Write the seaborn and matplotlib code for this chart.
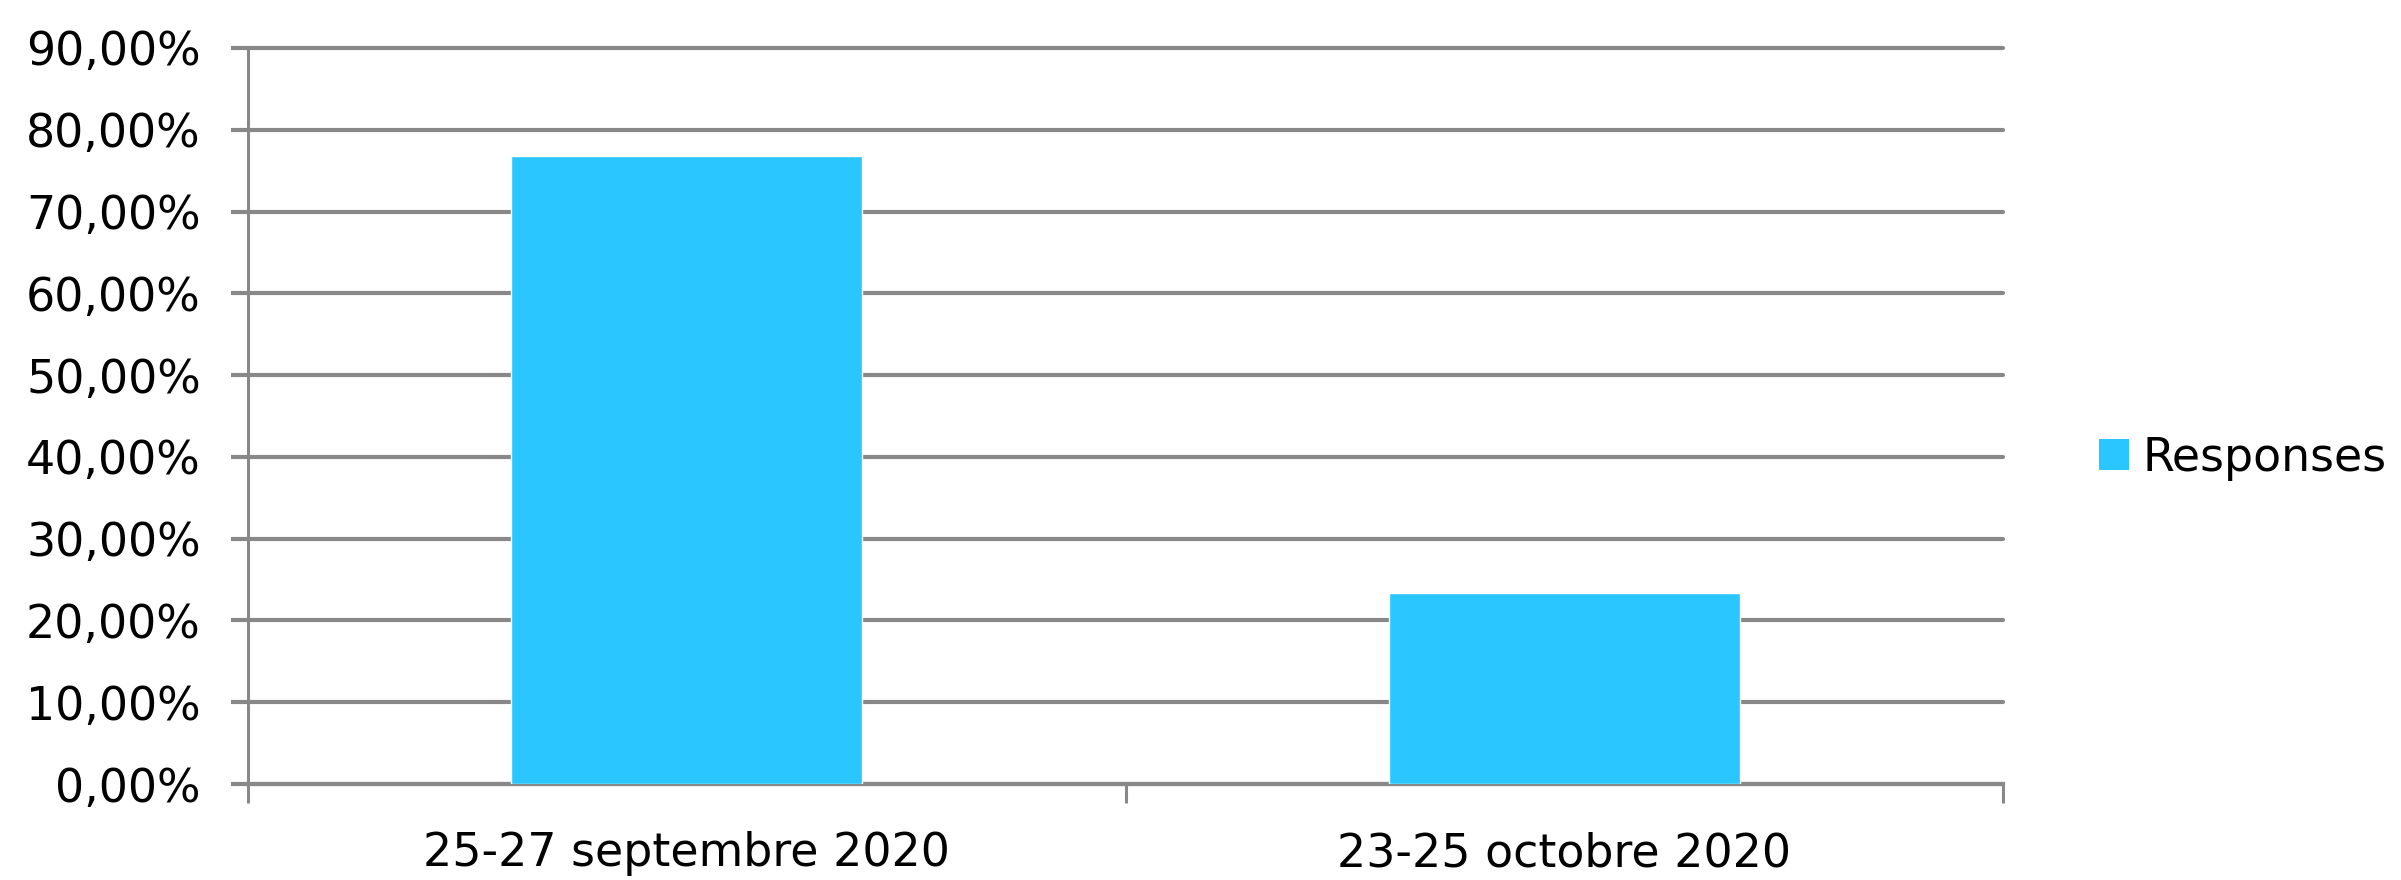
import matplotlib
matplotlib.use("Agg")
import matplotlib.pyplot as plt
import seaborn as sns
import pandas as pd
from matplotlib.ticker import FuncFormatter, FixedLocator
from matplotlib.patches import Patch

# Data
categories = ["25-27 septembre 2020", "23-25 octobre 2020"]
responses = [0.768, 0.233]
series_name = "Responses"

df = pd.DataFrame({"periode": categories, "valeur": responses})

bar_color = "#29C6FF"
grid_color = "#888888"

sns.set_theme(style="white")
plt.rcParams["font.family"] = ["DejaVu Sans"]
plt.rcParams["text.color"] = "black"

fig = plt.figure(figsize=(24.01, 8.8), dpi=100)
ax = fig.add_axes([248 / 2401, 96 / 880, 1755 / 2401, 736 / 880])

sns.barplot(data=df, x="periode", y="valeur", color=bar_color, width=0.4,
            saturation=1, ax=ax, zorder=3)

ax.set_ylim(0, 0.9)
ax.set_xlim(-0.5, 1.5)
ax.set_yticks([i / 10 for i in range(10)])
ax.yaxis.set_major_formatter(FuncFormatter(lambda v, p: f"{v*100:.2f}%".replace(".", ",")))

# horizontal grid lines, drawn behind the bars
ax.yaxis.grid(True, color=grid_color, linewidth=3.0, zorder=0)
ax.set_axisbelow(True)
for gl in ax.get_ygridlines():
    gl.set_clip_on(False)

for s in ["top", "right"]:
    ax.spines[s].set_visible(False)
ax.spines["left"].set_color(grid_color)
ax.spines["left"].set_linewidth(2.2)
ax.spines["bottom"].set_color(grid_color)
ax.spines["bottom"].set_linewidth(3.0)

ax.tick_params(axis="y", which="major", direction="out", length=12, width=3.0,
               color=grid_color, labelsize=33, pad=22, left=True, labelcolor="black")
ax.tick_params(axis="x", which="major", length=0, labelsize=33, pad=34,
               labelcolor="black")
ax.xaxis.set_minor_locator(FixedLocator([-0.5, 0.5, 1.5]))
ax.tick_params(axis="x", which="minor", direction="out", length=14, width=2.2,
               color=grid_color, bottom=True)

ax.set_xlabel("")
ax.set_ylabel("")

handle = Patch(facecolor=bar_color, edgecolor="none", label=series_name)
fig.legend(handles=[handle], loc="center left",
           bbox_to_anchor=(2099 / 2401, 1 - 458 / 880), frameon=False,
           fontsize=33, borderpad=0, borderaxespad=0,
           handlelength=0.65, handleheight=0.65, handletextpad=0.3,
           labelcolor="black")

fig.savefig("out.png", dpi=100, facecolor="white")
